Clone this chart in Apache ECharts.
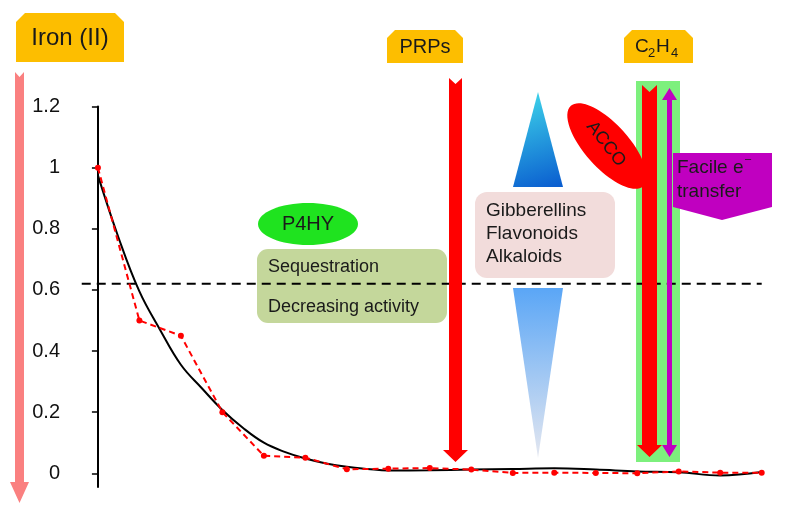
<!DOCTYPE html>
<html>
<head>
<meta charset="utf-8">
<title>Iron (II)</title>
<script src="https://cdn.jsdelivr.net/npm/echarts@6/dist/echarts.min.js"></script>
<style>
  html, body { margin: 0; padding: 0; background: #fff; }
  #chart { width: 787px; height: 508px; }
</style>
</head>
<body>
<div id="chart"></div>
<script>
// measured iron (II), one value per sample step
var sampleIdx = [0, 1, 2, 3, 4, 5, 6, 7, 8, 9, 10, 11, 12, 13, 14, 15, 16];
var ironValues = [1.0, 0.50, 0.45, 0.20, 0.057, 0.051, 0.013, 0.015, 0.017, 0.012, 0.001, 0.002, 0.001, 0.0, 0.006, 0.002, 0.002];

// black trend curve
var fitIdx = [0, 0.5, 1, 1.5, 2, 2.5, 3, 3.5, 4, 4.5, 5, 5.5, 6, 6.5, 7, 8, 9, 10, 11, 12, 13, 14, 15, 16];
var fitValues = [0.975, 0.77, 0.595, 0.469, 0.355, 0.279, 0.207, 0.148, 0.10, 0.07, 0.048, 0.032, 0.021, 0.014, 0.009, 0.010, 0.012, 0.014, 0.016, 0.012, 0.006, 0.003, -0.007, 0.004];

// dashed threshold
var thresholdX = [-0.39, 16];
var thresholdY = 0.62;

var yTicks = [0, 0.2, 0.4, 0.6, 0.8, 1, 1.2];

var FONT = 'Liberation Sans, Arial, sans-serif';
var ORANGE = '#FDBE00';

function pairs(xs, ys) {
  var out = [];
  for (var i = 0; i < xs.length; i++) out.push([xs[i], ys[i]]);
  return out;
}

// orange header tag with cut top corners
function tag(x1, y1, x2, y2, c) {
  return {
    type: 'polygon', z: 5,
    shape: { points: [[x1, y2], [x1, y1 + c], [x1 + c, y1], [x2 - c, y1], [x2, y1 + c], [x2, y2]] },
    style: { fill: ORANGE }
  };
}

// down arrow with a notched tail
function downArrow(x1, x2, top, headY, tip, hw, notch, color, z) {
  var mid = (x1 + x2) / 2;
  return {
    type: 'polygon', z: z,
    shape: { points: [[x1, top], [mid, top + notch], [x2, top], [x2, headY], [x2 + hw, headY],
                      [mid, tip], [x1 - hw, headY], [x1, headY]] },
    style: { fill: color }
  };
}

function txt(x, y, s, size, opts) {
  var st = { text: s, x: x, y: y, fill: '#1a1a1a', font: (opts && opts.weight ? opts.weight + ' ' : '') + size + 'px ' + FONT,
             textAlign: (opts && opts.align) || 'left', textVerticalAlign: 'middle' };
  return { type: 'text', z: 20, style: st };
}

var chart = echarts.init(document.getElementById('chart'));

var graphics = [
  // left pink arrow
  downArrow(15, 24, 72, 482, 503, 5, 5, '#FA8080', 5),
  tag(16, 13, 124, 62, 9),
  txt(70, 38, 'Iron (II)', 24, { align: 'center' }),

  // PRPs
  tag(387, 30, 463, 63, 8),
  txt(425, 47, 'PRPs', 20, { align: 'center' }),
  downArrow(449, 462, 78, 450, 462, 6, 6, '#FF0000', 10),

  // blue triangles
  {
    type: 'polygon', z: 4,
    shape: { points: [[538, 92], [563, 187], [513, 187]] },
    style: { fill: new echarts.graphic.LinearGradient(0.2, 0, 0.8, 1, [
      { offset: 0, color: '#3ED6EA' }, { offset: 1, color: '#0B5FD0' }]) }
  },
  {
    type: 'polygon', z: 4,
    shape: { points: [[513, 288], [563, 288], [538, 458]] },
    style: { fill: new echarts.graphic.LinearGradient(0, 0, 0, 1, [
      { offset: 0, color: '#5AA6F6' }, { offset: 1, color: '#E4E7F0' }]) }
  },

  // P4HY + sequestration box
  { type: 'ellipse', z: 4, shape: { cx: 308, cy: 224, rx: 50, ry: 21 }, style: { fill: '#1FE31F' } },
  txt(308, 224, 'P4HY', 20, { align: 'center' }),
  { type: 'rect', z: 0, shape: { x: 257, y: 249, width: 190, height: 74, r: 11 }, style: { fill: '#C4D79B' } },
  txt(268, 267, 'Sequestration', 18),
  txt(268, 307, 'Decreasing activity', 18),

  // secondary metabolites box
  { type: 'rect', z: 0, shape: { x: 475, y: 192, width: 140, height: 86, r: 12 }, style: { fill: '#F2DCDB' } },
  txt(486, 211, 'Gibberellins', 19),
  txt(486, 234, 'Flavonoids', 19),
  txt(486, 257, 'Alkaloids', 19),

  // ethylene
  tag(624, 30, 693, 63, 8),
  txt(635, 47, 'C', 19),
  txt(648, 53, '2', 13),
  txt(656, 47, 'H', 19),
  txt(671, 53, '4', 13),
  { type: 'rect', z: 1, shape: { x: 636, y: 81, width: 44, height: 381 }, style: { fill: '#7DF07D' } },
  downArrow(642, 657, 85, 445, 457, 5, 7, '#FF0000', 10),
  {
    type: 'polygon', z: 10,
    shape: { points: [[669.5, 88], [677, 100], [672, 100], [672, 445], [677, 445], [669.5, 457],
                      [662, 445], [667, 445], [667, 100], [662, 100]] },
    style: { fill: '#C000C0' }
  },
  {
    type: 'ellipse', z: 8, x: 607, y: 146, rotation: -48 * Math.PI / 180,
    shape: { cx: 0, cy: 0, rx: 54, ry: 22 }, style: { fill: '#FF0000' }
  },
  {
    type: 'text', z: 20, x: 606, y: 144, rotation: -52 * Math.PI / 180,
    style: { text: 'ACCO', x: 0, y: 0, fill: '#1a1a1a', font: '18px ' + FONT, textAlign: 'center', textVerticalAlign: 'middle' }
  },
  {
    type: 'polygon', z: 10,
    shape: { points: [[673, 153], [772, 153], [772, 207], [722, 220], [673, 207]] },
    style: { fill: '#C000C0' }
  },
  txt(677, 168, 'Facile e', 19),
  txt(745, 159, '\u2013', 11),
  txt(677, 192, 'transfer', 19)
];

chart.setOption({
  animation: false,
  backgroundColor: '#fff',
  grid: { left: 78, right: 17, top: 106.6, bottom: 21 },
  xAxis: {
    type: 'value', min: -0.48, max: 16.2, show: false
  },
  yAxis: {
    type: 'value', min: -0.045, max: 1.2,
    axisLine: { show: true, lineStyle: { color: '#000', width: 2 } },
    axisTick: { show: true, length: 6, customValues: yTicks, lineStyle: { color: '#000', width: 1.5 } },
    axisLabel: { customValues: yTicks, color: '#111', fontSize: 20, fontFamily: FONT, margin: 18 },
    splitLine: { show: false }
  },
  series: [
    {
      name: 'threshold', type: 'line', z: 2,
      data: pairs(thresholdX, [thresholdY, thresholdY]),
      symbol: 'none',
      lineStyle: { color: '#000', width: 2, type: [9, 6] }
    },
    {
      name: 'fit', type: 'line', z: 3,
      data: pairs(fitIdx, fitValues),
      smooth: 0.4, symbol: 'none',
      lineStyle: { color: '#000', width: 2 }
    },
    {
      name: 'Iron (II)', type: 'line', z: 4,
      data: pairs(sampleIdx, ironValues),
      symbol: 'circle', symbolSize: 6,
      itemStyle: { color: '#FF0000' },
      lineStyle: { color: '#FF0000', width: 2, type: [6, 4] }
    }
  ],
  graphic: graphics
});
</script>
</body>
</html>
